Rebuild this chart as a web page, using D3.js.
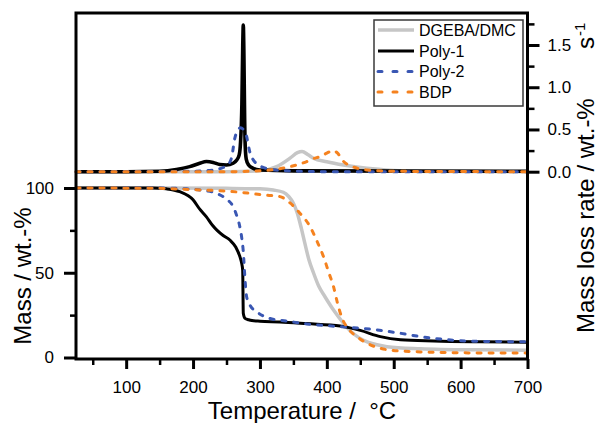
<!DOCTYPE html>
<html>
<head>
<meta charset="utf-8">
<script src="https://cdn.jsdelivr.net/npm/d3@7"></script>
<style>
  html, body { margin: 0; padding: 0; background: #fff; }
  svg { display: block; font-family: "Liberation Sans", Arial, sans-serif; }
  text { white-space: pre; }
</style>
</head>
<body>
<svg id="chart" width="599" height="423"></svg>
<script>
// ---------- DATA ----------
const seriesNames = ["DGEBA/DMC", "Poly-1", "Poly-2", "BDP"];
const seriesColors = ["#c6c6c6", "#000000", "#3a57b3", "#f5821f"];

// Mass (wt.-%) vs temperature (°C)
const massT_DGEBA = [25, 150, 250, 300, 320, 335, 343, 350, 356, 362, 367, 373, 380, 388, 397, 410, 425, 440, 454, 475, 490, 540, 620, 700];
const massV_DGEBA = [100, 100, 99.8, 99.5, 98.8, 97.5, 95, 91, 85, 76, 67.6, 58, 50, 42, 36, 28, 20.2, 14, 10.3, 7.5, 6.4, 5.2, 4.5, 4.3];

const massT_Poly1 = [25, 140, 160, 180, 200, 210, 220, 229, 236, 245, 255, 264, 270, 272.7, 274.2, 275.1, 277.7, 283, 288, 300, 330, 370, 420, 450, 480, 510, 560, 630, 700];
const massV_Poly1 = [100, 100, 99.5, 97.8, 93, 87.5, 83, 78, 75, 72, 69.3, 65, 59.5, 55.6, 51.6, 26.1, 23.1, 22.3, 21.8, 21.4, 21, 20, 18.6, 16, 12.3, 10.5, 9.8, 9.3, 9.0];

const massT_Poly2 = [25, 150, 190, 210, 230, 245, 253, 260, 265, 270, 273, 275, 277.7, 280, 285, 295, 305, 315, 340, 370, 420, 470, 510, 540, 580, 630, 700];
const massV_Poly2 = [100, 100, 99.5, 98.8, 97.5, 94.9, 92.5, 89, 84, 77, 70, 63, 46, 36, 31, 27, 24.5, 23, 21.5, 19.8, 18.2, 16.5, 14.3, 12.3, 10.5, 9.5, 9.3];

const massT_BDP = [25, 150, 200, 230, 270, 305, 330, 345, 360, 375, 386, 395, 403, 410, 416, 422, 432, 445, 465, 494, 540, 620, 700];
const massV_BDP = [100, 99.8, 99, 98.6, 97.5, 95.9, 94.9, 91.2, 85, 77.2, 68, 59.5, 50, 41.8, 32, 24, 17, 12.3, 7.5, 4.4, 3.3, 2.7, 2.6];

// Mass loss rate (wt.-% s^-1) vs temperature (°C)
const rateT_DGEBA = [25, 250, 300, 325, 345, 356, 363, 372, 380, 400, 425, 460, 500, 550, 700];
const rateV_DGEBA = [0, 0, 0.01, 0.06, 0.16, 0.225, 0.24, 0.2, 0.16, 0.118, 0.079, 0.04, 0.015, 0.003, 0];

const rateT_Poly1 = [25, 100, 150, 175, 195, 210, 220, 230, 240, 250, 260, 265, 269, 271, 273, 274.3, 275.1, 276, 277, 278, 279.5, 283, 290, 300, 350, 700];
const rateV_Poly1 = [0, 0, 0.005, 0.025, 0.06, 0.1, 0.12, 0.11, 0.085, 0.08, 0.1, 0.135, 0.2, 0.35, 0.8, 1.5, 1.736, 1.4, 0.7, 0.3, 0.15, 0.08, 0.04, 0.02, 0.01, 0.005];

const rateT_Poly2 = [25, 200, 230, 245, 253, 258, 262, 266, 271, 276, 280, 283, 286, 290, 296, 305, 315, 340, 400, 700];
const rateV_Poly2 = [0, 0.005, 0.02, 0.05, 0.09, 0.18, 0.38, 0.48, 0.52, 0.49, 0.42, 0.3, 0.2, 0.14, 0.09, 0.05, 0.03, 0.01, 0, 0];

const rateT_BDP = [25, 250, 300, 325, 355, 370, 380, 390, 400, 409, 416, 424, 432, 440, 460, 500, 700];
const rateV_BDP = [0, 0, 0.01, 0.03, 0.08, 0.12, 0.155, 0.18, 0.22, 0.25, 0.22, 0.13, 0.08, 0.055, 0.02, 0.005, 0];

// Ticks
const xTicks = [100, 200, 300, 400, 500, 600, 700];
const xMinorTicks = [50, 150, 250, 350, 450, 550, 650];
const massTicks = [0, 50, 100];
const massMinorTicks = [25, 75];
const rateTicks = [0, 0.5, 1.0, 1.5];
const rateMinorTicks = [0.25, 0.75, 1.25, 1.75];

// ---------- CHART ----------
const svg = d3.select("#chart");
const L = 76, R = 527.5, T = 13, B = 359;

const x = d3.scaleLinear().domain([25, 700]).range([L, R]);
const yM = d3.scaleLinear().domain([0, 100]).range([357.5, 188]);
const yR = d3.scaleLinear().domain([0, 1.5]).range([171.7, 45]);

const zip = (a, b) => a.map((t, i) => [t, b[i]]);
const massData = [zip(massT_DGEBA, massV_DGEBA), zip(massT_Poly1, massV_Poly1), zip(massT_Poly2, massV_Poly2), zip(massT_BDP, massV_BDP)];
const rateData = [zip(rateT_DGEBA, rateV_DGEBA), zip(rateT_Poly1, rateV_Poly1), zip(rateT_Poly2, rateV_Poly2), zip(rateT_BDP, rateV_BDP)];

const lineM = d3.line().x(d => x(d[0])).y(d => yM(d[1])).curve(d3.curveMonotoneX);
const lineR = d3.line().x(d => x(d[0])).y(d => yR(d[1])).curve(d3.curveMonotoneX);

function styleLine(sel, i) {
  sel.attr("fill", "none")
    .attr("stroke", seriesColors[i])
    .attr("stroke-width", i === 0 ? 3.5 : 3)
    .attr("stroke-linejoin", "round");
  if (i >= 2) sel.attr("stroke-dasharray", "4,8").attr("stroke-linecap", "round");
}

const curves = svg.append("g");
[0, 1, 2, 3].forEach(i => {
  curves.append("path").datum(rateData[i]).attr("d", lineR).call(styleLine, i)
    .attr("stroke-width", i === 1 ? 3.6 : (i === 0 ? 3.5 : 3));
});
[0, 1, 2, 3].forEach(i => {
  curves.append("path").datum(massData[i]).attr("d", lineM).call(styleLine, i);
});

// ---------- AXES ----------
const fmtR = d3.format(".1f");
function styleAxis(g, w) {
  g.select(".domain").remove();
  g.selectAll(".tick line").attr("stroke", "#000").attr("stroke-width", w);
  g.selectAll(".tick text").attr("fill", "#000").attr("font-size", 17);
}

svg.append("g").attr("transform", `translate(0,${B})`)
  .call(d3.axisBottom(x).tickValues(xTicks).tickSize(10).tickPadding(11.5))
  .call(g => styleAxis(g, 3));
svg.append("g").attr("transform", `translate(0,${B})`)
  .call(d3.axisBottom(x).tickValues(xMinorTicks).tickSize(6).tickFormat(""))
  .call(g => styleAxis(g, 2.5));

svg.append("g").attr("transform", `translate(${L},0)`)
  .call(d3.axisLeft(yM).tickValues(massTicks).tickSize(12).tickPadding(10))
  .call(g => styleAxis(g, 3));
svg.append("g").attr("transform", `translate(${L},0)`)
  .call(d3.axisLeft(yM).tickValues(massMinorTicks).tickSize(6).tickFormat(""))
  .call(g => styleAxis(g, 2.5));

svg.append("g").attr("transform", `translate(${R},0)`)
  .call(d3.axisRight(yR).tickValues(rateTicks).tickSize(12).tickPadding(8).tickFormat(fmtR))
  .call(g => styleAxis(g, 3));
svg.append("g").attr("transform", `translate(${R},0)`)
  .call(d3.axisRight(yR).tickValues(rateMinorTicks).tickSize(7).tickFormat(""))
  .call(g => styleAxis(g, 2.5));

// frame
svg.append("rect").attr("x", L).attr("y", T).attr("width", R - L).attr("height", B - T)
  .attr("fill", "none").attr("stroke", "#000").attr("stroke-width", 3);

// ---------- TITLES ----------
svg.append("text").attr("x", 302).attr("y", 418.5).attr("text-anchor", "middle")
  .attr("font-size", 24).attr("fill", "#000").text("Temperature /  °C");

svg.append("text").attr("transform", "translate(31,276) rotate(-90)").attr("text-anchor", "middle")
  .attr("font-size", 24).attr("fill", "#000").text("Mass / wt.-%");

const rt = svg.append("text").attr("transform", "translate(594,333) rotate(-90)")
  .attr("font-size", 24).attr("fill", "#000");
rt.append("tspan").attr("x", 0).text("Mass loss rate / wt.-%");
rt.append("tspan").attr("x", 284).text("s");
rt.append("tspan").attr("x", 297).attr("dy", -9).attr("font-size", 15).text("-1");

// ---------- LEGEND ----------
const lg = svg.append("g");
lg.append("rect").attr("x", 374).attr("y", 20).attr("width", 149).attr("height", 86)
  .attr("fill", "#fff").attr("stroke", "#3a3a3a").attr("stroke-width", 1.5);
const rowY = [30, 51, 71.5, 92];
seriesNames.forEach((name, i) => {
  lg.append("line").attr("x1", 378).attr("x2", 414).attr("y1", rowY[i]).attr("y2", rowY[i])
    .call(styleLine, i).attr("stroke-dasharray", i >= 2 ? "4,11" : null);
  lg.append("text").attr("x", 419).attr("y", rowY[i]).attr("dy", "0.36em")
    .attr("font-size", 16).attr("fill", "#000").text(name);
});
</script>
</body>
</html>
